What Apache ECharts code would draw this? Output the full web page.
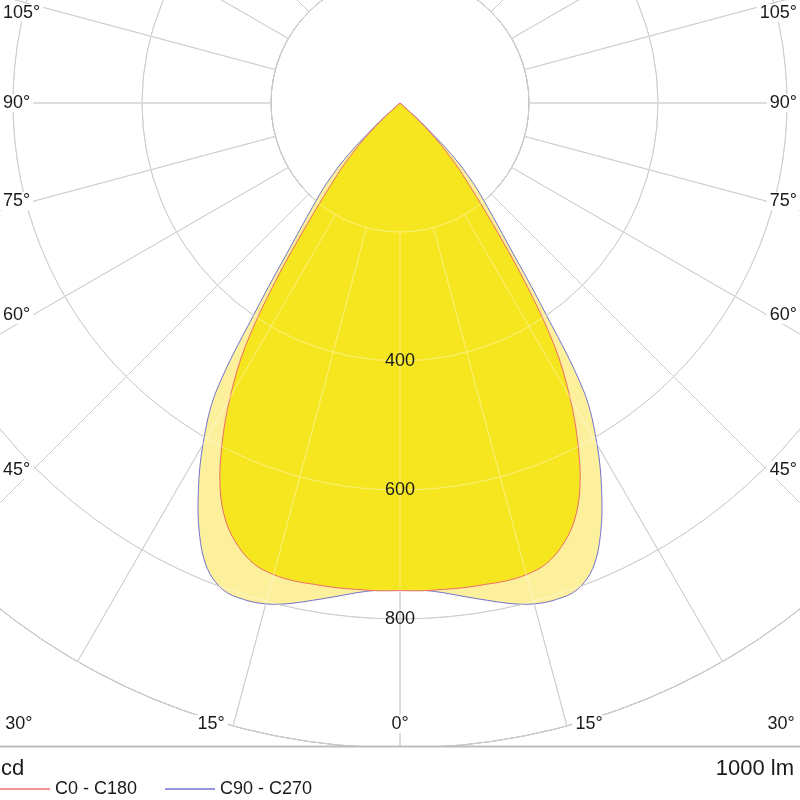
<!DOCTYPE html>
<html>
<head>
<meta charset="utf-8">
<script src="https://cdn.jsdelivr.net/npm/echarts@6.0.0/dist/echarts.min.js"></script>
<style>
  html, body { margin: 0; padding: 0; background: #fff; }
  #main { width: 800px; height: 800px; }
</style>
</head>
<body>
<div id="main"></div>
<script>
// gamma angles (deg from nadir) and intensities in cd
const gammaAngles = [0, 2.5, 5, 7.5, 10, 12.5, 15, 17.5, 20, 22.5, 25, 27.5, 30, 32.5, 35, 37.5, 40, 42.5, 45, 47.5, 50];
const c0Values  = [756, 757, 757, 758, 758, 759, 757, 750, 732, 704, 660, 598, 527, 445, 335, 236, 170, 124, 78, 32, 0];
const c90Values = [755, 756, 762, 772, 783, 795, 804, 807, 803, 781, 736, 677, 611, 531, 379, 273, 212, 167, 113, 42, 0];

const seriesNames = ['C0 - C180', 'C90 - C270'];
const angleLabels = [0, 15, 30, 45, 60, 75, 90, 105];
const radiusLabels = [400, 600, 800];

const FONT = '"Liberation Sans", Arial, sans-serif';
const chart = echarts.init(document.getElementById('main'));

// closed outline: right half (C0 / C90) then mirrored left half (C180 / C270)
function curvePoints(vals) {
  const pts = [];
  for (let i = gammaAngles.length - 1; i >= 0; i--) pts.push([vals[i], 360 - gammaAngles[i]]);
  for (let i = 1; i < gammaAngles.length; i++) pts.push([vals[i], gammaAngles[i]]);
  return pts;
}

function polyRenderer(pts, fill, stroke) {
  return function (params, api) {
    if (params.dataIndex !== 0) return null;
    return {
      type: 'polygon',
      shape: { points: pts.map(p => api.coord(p)), smooth: 0.35 },
      style: { fill: fill, stroke: stroke, lineWidth: 1 }
    };
  };
}

const c0Pts = curvePoints(c0Values);
const c90Pts = curvePoints(c90Values);

function angleAxis(idx, color, z, showLine) {
  return {
    polarIndex: idx, type: 'value', min: 0, max: 360, interval: 15,
    startAngle: 270, clockwise: true, z: z,
    axisLine: { show: showLine, lineStyle: { color: color, width: 1 } },
    axisTick: { show: false }, axisLabel: { show: false },
    splitLine: { show: true, lineStyle: { color: color, width: 1 } }
  };
}
function radiusAxis(idx, color, z) {
  return {
    polarIndex: idx, type: 'value', min: 200, max: 1000, interval: 200, z: z,
    axisLine: { show: false }, axisTick: { show: false }, axisLabel: { show: false },
    splitLine: { show: true, lineStyle: { color: color, width: 1 } }
  };
}

chart.setOption({
  animation: false,
  polar: [
    { center: [400, 103], radius: [129, 645] },
    { center: [400, 103], radius: [129, 645] }
  ],
  angleAxis: [angleAxis(0, '#aaaaaa', 1, true), angleAxis(1, 'rgba(255,255,255,0.42)', 3, false)],
  radiusAxis: [radiusAxis(0, '#aaaaaa', 1), radiusAxis(1, 'rgba(255,255,255,0.42)', 3)],
  legend: {
    left: 0, top: 780, padding: 0, z: 70,
    itemWidth: 50, itemHeight: 1.5, itemGap: 28, icon: 'rect',
    selectedMode: false,
    textStyle: { fontSize: 18, fontFamily: FONT, color: '#1a1a1a' },
    data: [
      { name: seriesNames[0], itemStyle: { color: '#ee6e6e' } },
      { name: seriesNames[1], itemStyle: { color: '#7272cc' } }
    ]
  },
  series: [
    {
      name: seriesNames[1], type: 'custom', coordinateSystem: 'polar', polarIndex: 0,
      encode: { radius: 0, angle: 1 }, data: c90Pts, z: 2, silent: true,
      itemStyle: { color: '#7272cc' },
      renderItem: polyRenderer(c90Pts, '#fcf09c', '#7272cc')
    },
    {
      name: seriesNames[0], type: 'custom', coordinateSystem: 'polar', polarIndex: 0,
      encode: { radius: 0, angle: 1 }, data: c0Pts, z: 2, silent: true,
      itemStyle: { color: '#ee6e6e' },
      renderItem: polyRenderer(c0Pts, '#f6e620', '#ee6e6e')
    }
  ]
});

// labels placed from the polar scale
const centre = chart.convertToPixel({ seriesIndex: 0 }, [0, 0]);
const cx = centre[0], cy = centre[1];
const bottomY = 724, sideInset = 33;

function label(text, x, y, align, size, bg) {
  return {
    type: 'text', x: x, y: y, z: 60,
    style: {
      text: text, font: size + 'px ' + FONT, fill: '#1a1a1a',
      align: align, verticalAlign: 'middle',
      backgroundColor: bg ? '#fff' : null, padding: bg ? [0, 3] : 0
    }
  };
}

const elements = [
  { type: 'rect', z: 50, shape: { x: 0, y: 747, width: 800, height: 53 }, style: { fill: '#fff' } },
  { type: 'line', z: 51, shape: { x1: 0, y1: 746.5, x2: 800, y2: 746.5 }, style: { stroke: '#bdbdbd', lineWidth: 2 } },
  label('cd', 1, 769, 'left', 22, false),
  label('1000 lm', 794, 769, 'right', 22, false)
];

angleLabels.forEach(a => {
  const t = a + '°';
  const rad = a * Math.PI / 180;
  if (a === 0) {
    elements.push(label(t, cx, bottomY, 'center', 18, true));
    return;
  }
  let ySide = a === 90 ? cy : cy + (cx - sideInset) / Math.tan(rad);
  if (ySide <= bottomY) {
    ySide = Math.max(13, ySide);
    elements.push(label(t, 0, ySide, 'left', 18, true));
    elements.push(label(t, 800, ySide, 'right', 18, true));
  } else {
    const rx = cx - (bottomY - cy) * Math.tan(rad) - 6;
    elements.push(label(t, rx, bottomY, 'right', 18, true));
    elements.push(label(t, 2 * cx - rx, bottomY, 'left', 18, true));
  }
});

radiusLabels.forEach(v => {
  const p = chart.convertToPixel({ seriesIndex: 0 }, [v, 0]);
  const onWhite = v > Math.max.apply(null, c90Values);
  elements.push(label(String(v), p[0], p[1], 'center', 18, onWhite));
});

chart.setOption({ graphic: { elements: elements } });
</script>
</body>
</html>
